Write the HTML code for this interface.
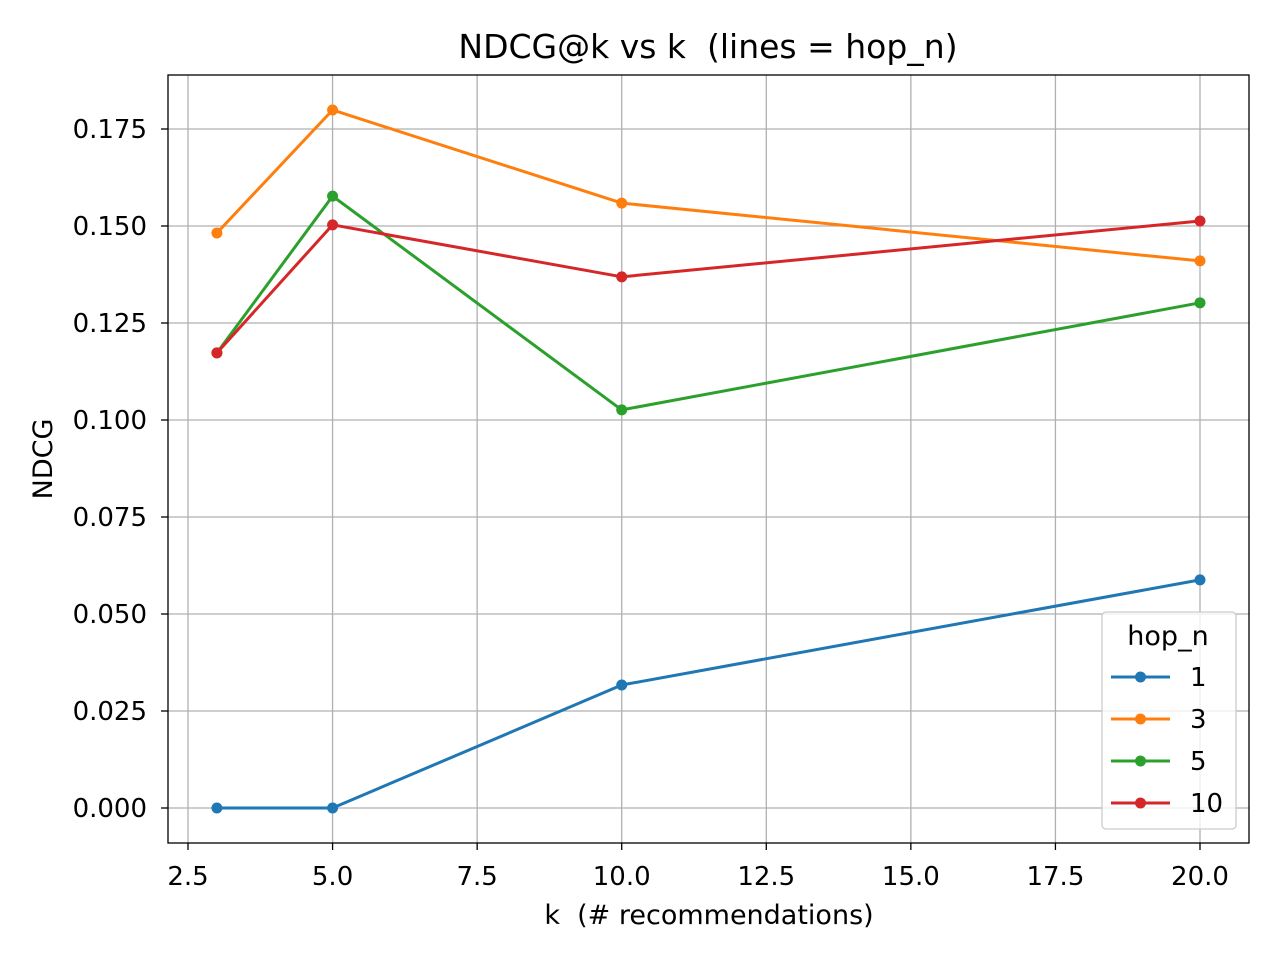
<!DOCTYPE html>
<html><head><meta charset="utf-8"><style>
body{margin:0;background:#fff}
svg text{font-family:"DejaVu Sans","Liberation Sans",sans-serif;fill:#000;white-space:pre}
</style></head><body>
<svg id="chart" width="1280" height="960" xmlns="http://www.w3.org/2000/svg">
<rect width="1280" height="960" fill="#fff"/>
<g id="grid"></g>
<g id="ticks"></g>
<g id="series"></g>
<rect x="168" y="75" width="1081" height="768" fill="none" stroke="#000" stroke-width="1.3"/>
<text x="708" y="58" font-size="33" text-anchor="middle" xml:space="preserve">NDCG@k vs k  (lines = hop_n)</text>
<text x="709" y="924" font-size="27" text-anchor="middle" xml:space="preserve">k  (# recommendations)</text>
<text transform="translate(52,459) rotate(-90)" font-size="27" text-anchor="middle">NDCG</text>
<g id="legend">
<rect x="1102" y="612" width="134" height="217" rx="4" fill="#fff" fill-opacity="0.8" stroke="#ccc" stroke-width="1.3"/>
<text x="1168" y="645" font-size="27" text-anchor="middle">hop_n</text>
</g>
</svg>
<script>
const categories=[3,5,10,20];
const seriesNames=["1","3","5","10"];
const hop1=[0,0,0.0317,0.0588];
const hop3=[0.1482,0.1799,0.1559,0.1410];
const hop5=[0.1173,0.1577,0.1026,0.1302];
const hop10=[0.1173,0.1503,0.1369,0.1513];
const xTicks=["2.5","5.0","7.5","10.0","12.5","15.0","17.5","20.0"];
const yTicks=["0.000","0.025","0.050","0.075","0.100","0.125","0.150","0.175"];
const colors=["#1f77b4","#ff7f0e","#2ca02c","#d62728"];
const NS="http://www.w3.org/2000/svg";
const X=v=>188+(v-2.5)*1012/17.5;
const Y=v=>808-v*3880;
function mk(t,a,p){const e=document.createElementNS(NS,t);for(const k in a)e.setAttribute(k,a[k]);p.appendChild(e);return e;}
const grid=document.getElementById('grid'),ticks=document.getElementById('ticks');
xTicks.forEach(t=>{const x=X(parseFloat(t));
const g=mk('line',{x1:x,x2:x,y1:75,y2:843,stroke:'#b0b0b0','stroke-width':1.3},grid);

mk('line',{x1:x,x2:x,y1:843,y2:850,stroke:'#000','stroke-width':1.3},ticks);
const tx=mk('text',{x:x,y:885,'font-size':26,'text-anchor':'middle'},ticks);tx.textContent=t;
});
yTicks.forEach(t=>{const y=Y(parseFloat(t));
const g=mk('line',{x1:168,x2:1249,y1:y,y2:y,stroke:'#b0b0b0','stroke-width':1.3},grid);

mk('line',{x1:161,x2:168,y1:y,y2:y,stroke:'#000','stroke-width':1.3},ticks);
const tx=mk('text',{x:147,y:y+9,'font-size':26,'text-anchor':'end'},ticks);tx.textContent=t;
});
const ser=document.getElementById('series'),leg=document.getElementById('legend');
[hop1,hop3,hop5,hop10].forEach((d,i)=>{
const g=mk('g',{},ser);

mk('polyline',{points:d.map((v,j)=>X(categories[j])+','+Y(v)).join(' '),fill:'none',stroke:colors[i],'stroke-width':3,'stroke-linejoin':'round'},g);
d.forEach((v,j)=>{const c=mk('circle',{cx:X(categories[j]),cy:Y(v),r:5.5,fill:colors[i]},g);
});
const ly=677+i*42;
const le=mk('g',{},leg);

mk('line',{x1:1111,x2:1170,y1:ly,y2:ly,stroke:colors[i],'stroke-width':3},le);
mk('circle',{cx:1140.5,cy:ly,r:5.5,fill:colors[i]},le);
const t=mk('text',{x:1190,y:ly+9,'font-size':26},le);t.textContent=seriesNames[i];
});
</script>
</body></html>
